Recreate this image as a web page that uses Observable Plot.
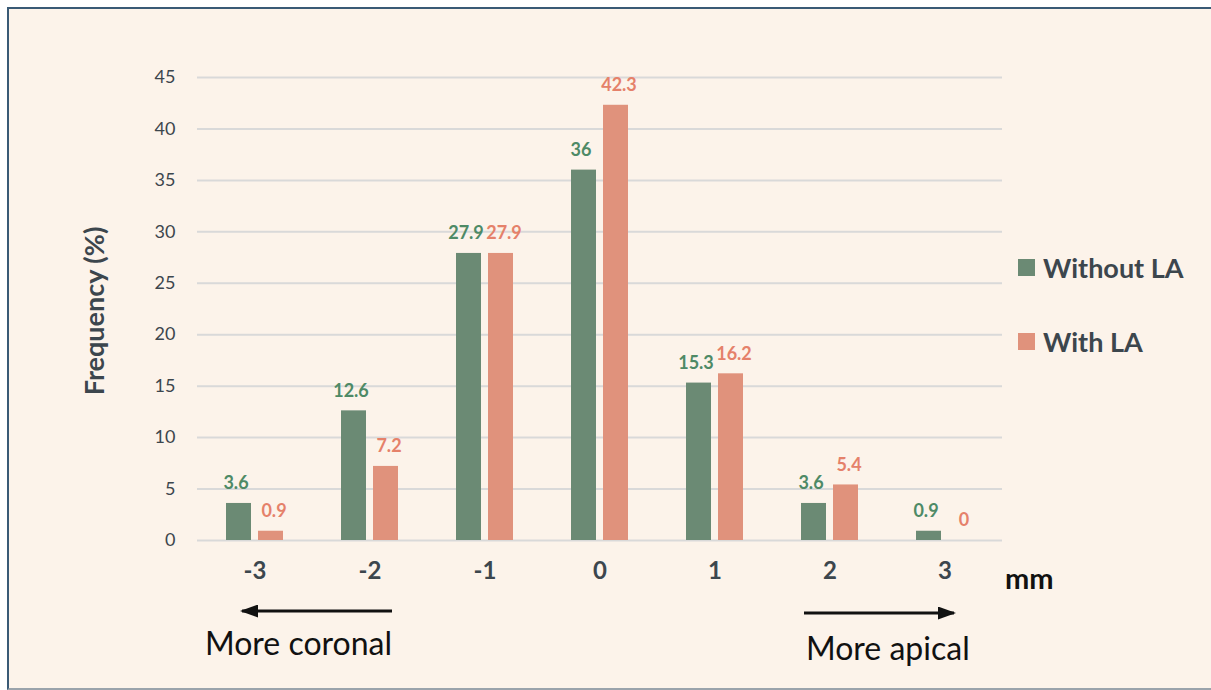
<!DOCTYPE html>
<html>
<head>
<meta charset="utf-8">
<script src="https://cdn.jsdelivr.net/npm/d3@7"></script>
<script src="https://cdn.jsdelivr.net/npm/@observablehq/plot@0.6"></script>
<style>
  html, body { margin: 0; padding: 0; background: #ffffff; }
  #wrap { position: relative; width: 1211px; height: 690px; overflow: hidden; font-family: Lato, "Open Sans", sans-serif; }
  #frame { position: absolute; left: 7px; top: 7px; width: 1210px; height: 679px; border: 2px solid #3a5a75; border-bottom-color: #9aa3ab; background: #fcf3ea; }
  #chart { position: absolute; left: 0; top: 0; }
  .legend { position: absolute; left: 1018px; display: flex; align-items: center; font-weight: 700; font-size: 27px; color: #3c464d; }
  .legend .sw { width: 17px; height: 17px; margin-right: 8px; }
  .note { position: absolute; font-size: 32px; color: #111; white-space: nowrap; line-height: 1; }
  #mm { position: absolute; left: 1005px; top: 561px; font-weight: 700; font-size: 29px; color: #111; line-height: 1.2; }
  #arrows { position: absolute; left: 0; top: 0; }
</style>
</head>
<body>
<div id="wrap">
  <div id="frame"></div>
  <div id="chart"></div>
  <div id="legend"></div>
  <div id="mm">mm</div>
  <svg id="arrows" width="1211" height="690">
    <defs>
      <marker id="ah" viewBox="0 0 18 13" refX="16" refY="6.5" markerWidth="18" markerHeight="13" orient="auto" markerUnits="userSpaceOnUse">
        <path d="M0,0 L18,6.5 L0,13 z" fill="#111"/>
      </marker>
    </defs>
    <line x1="392" y1="611" x2="242" y2="611" stroke="#111" stroke-width="3.2" marker-end="url(#ah)"/>
    <line x1="804" y1="613" x2="954" y2="613" stroke="#111" stroke-width="3.2" marker-end="url(#ah)"/>
  </svg>
  <div class="note" style="left:205px; top:627px;">More coronal</div>
  <div class="note" style="left:806px; top:632px;">More apical</div>
</div>
<script>
const categories = ["-3", "-2", "-1", "0", "1", "2", "3"];
const series = ["Without LA", "With LA"];
const withoutLA = [3.6, 12.6, 27.9, 36, 15.3, 3.6, 0.9];
const withLA = [0.9, 7.2, 27.9, 42.3, 16.2, 5.4, 0];
const yTicks = [0, 5, 10, 15, 20, 25, 30, 35, 40, 45];

const barColors = ["#6b8a74", "#e0927c"];
const labelColors = ["#4e8a66", "#e5816a"];

const data = categories.flatMap((c, i) => [
  {cat: c, series: series[0], value: withoutLA[i]},
  {cat: c, series: series[1], value: withLA[i]}
]);

const chart = Plot.plot({
  width: 1211,
  height: 690,
  marginLeft: 195,
  marginRight: 208,
  marginTop: 77,
  marginBottom: 150,
  style: {background: "transparent", fontFamily: "Lato, 'Open Sans', sans-serif", overflow: "visible"},
  fx: {domain: categories, padding: 0, axis: null, label: null},
  x: {domain: series, paddingInner: 0.21, paddingOuter: 0.855, axis: null, label: null},
  y: {domain: [0, 45], axis: null, label: null},
  color: {domain: series, range: barColors},
  marks: [
    Plot.gridY(yTicks, {stroke: "#d9d9d9", strokeOpacity: 1, strokeWidth: 2}),
    Plot.barY(data, {fx: "cat", x: "series", y: "value", fill: "series"}),
    ...series.map((s, k) => Plot.text(data.filter(d => d.series === s), {
      fx: "cat", x: "series", y: "value", text: d => String(d.value),
      dy: -20, dx: k === 0 ? -3 : 3, fill: labelColors[k], fontWeight: 700, fontSize: 18
    })),
    Plot.text(categories, {fx: d => d, frameAnchor: "bottom", dy: 38, text: d => d,
      fill: "#3c464d", fontWeight: 700, fontSize: 24}),
    Plot.axisY(yTicks, {anchor: "left", tickSize: 0, tickPadding: 22, fontSize: 18, fill: "#3c464d", label: null}),
    Plot.text(["Frequency (%)"], {fx: () => categories[0], frameAnchor: "left", textAnchor: "middle", dx: -102, dy: 2, rotate: -90,
      fill: "#3c464d", fontWeight: 700, fontSize: 27})
  ]
});
document.getElementById("chart").appendChild(chart);

const legend = document.getElementById("legend");
const legendTops = [251, 325];
series.forEach((s, k) => {
  const row = document.createElement("div");
  row.className = "legend";
  row.style.top = legendTops[k] + "px";
  const sw = document.createElement("div");
  sw.className = "sw";
  sw.style.background = barColors[k];
  row.appendChild(sw);
  const t = document.createElement("span");
  t.textContent = s;
  row.appendChild(t);
  legend.appendChild(row);
});
</script>
</body>
</html>
